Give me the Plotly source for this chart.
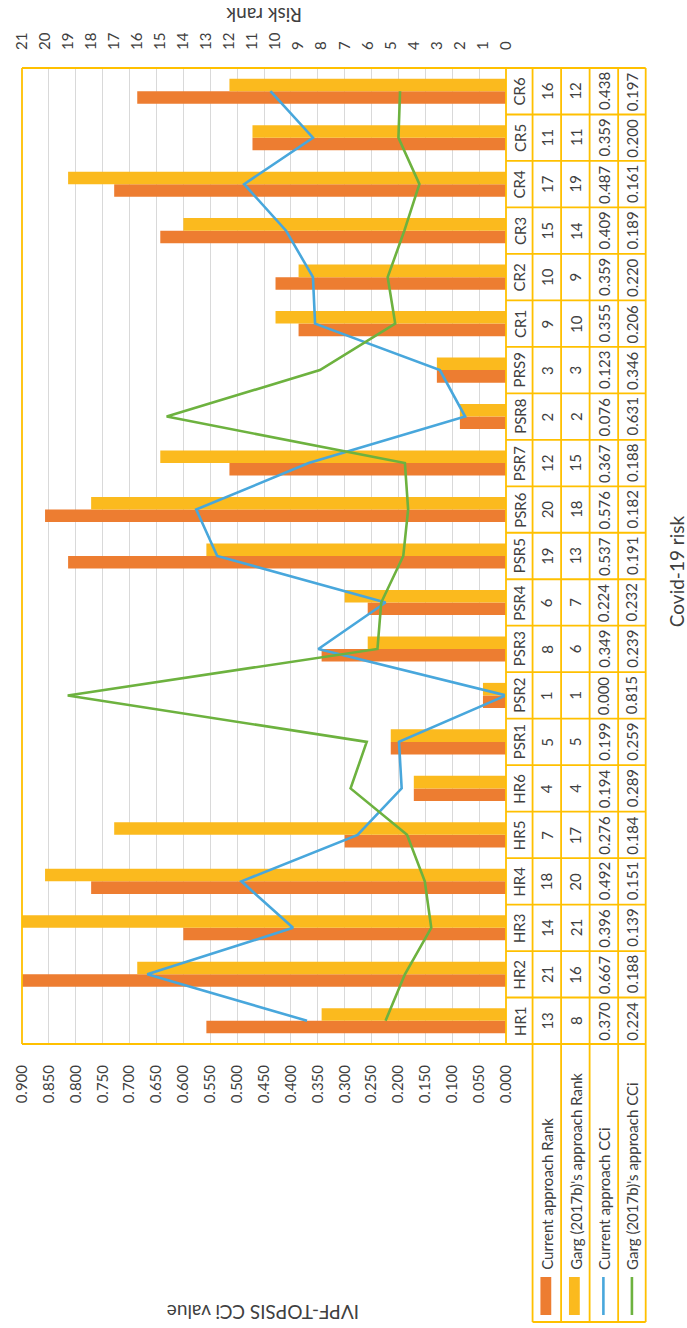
import plotly.graph_objects as go

# Covid-19 risk categories and results of the two IVPF-TOPSIS approaches
risks = ["HR1", "HR2", "HR3", "HR4", "HR5", "HR6",
         "PSR1", "PSR2", "PSR3", "PSR4", "PSR5", "PSR6", "PSR7", "PSR8", "PRS9",
         "CR1", "CR2", "CR3", "CR4", "CR5", "CR6"]
current_rank = [13, 21, 14, 18, 7, 4, 5, 1, 8, 6, 19, 20, 12, 2, 3, 9, 10, 15, 17, 11, 16]
garg_rank = [8, 16, 21, 20, 17, 4, 5, 1, 6, 7, 13, 18, 15, 2, 3, 10, 9, 14, 19, 11, 12]
current_cci = [0.370, 0.667, 0.396, 0.492, 0.276, 0.194, 0.199, 0.000, 0.349, 0.224, 0.537,
               0.576, 0.367, 0.076, 0.123, 0.355, 0.359, 0.409, 0.487, 0.359, 0.438]
garg_cci = [0.224, 0.188, 0.139, 0.151, 0.184, 0.289, 0.259, 0.815, 0.239, 0.232, 0.191,
            0.182, 0.188, 0.631, 0.346, 0.206, 0.220, 0.189, 0.161, 0.200, 0.197]

series_names = ["Current approach Rank", "Garg (2017b)'s approach Rank",
                "Current approach CCi", "Garg (2017b)'s approach CCi"]

ORANGE = "#ED7D31"
GOLD = "#FBBA1E"
BLUE = "#48A7DC"
GREEN = "#6DB23F"
FRAME = "#FFC000"
TEXT = "#404040"
FONT = "Lato"

W, H = 687, 1328
L, R, T, B = 14, 506, 68, 1044   # plot area in pixels


def px(xp):
    return (xp - L) / (R - L)


def py(yp):
    return (B - yp) / (B - T)


pos = list(range(len(risks)))

fig = go.Figure()
fig.add_trace(go.Bar(y=pos, x=current_rank, orientation="h", name=series_names[0],
                     marker=dict(color=ORANGE, line=dict(width=0)), xaxis="x", yaxis="y"))
fig.add_trace(go.Bar(y=pos, x=garg_rank, orientation="h", name=series_names[1],
                     marker=dict(color=GOLD, line=dict(width=0)), xaxis="x", yaxis="y"))
fig.add_trace(go.Scatter(y=pos, x=current_cci, mode="lines", name=series_names[2],
                         line=dict(color=BLUE, width=2.6), xaxis="x2", yaxis="y"))
fig.add_trace(go.Scatter(y=pos, x=garg_cci, mode="lines", name=series_names[3],
                         line=dict(color=GREEN, width=2.6), xaxis="x2", yaxis="y"))

shapes = []
frame = dict(color=FRAME, width=1.8)
# outer frame of plot and table
shapes.append(dict(type="line", xref="paper", yref="paper", x0=px(L), x1=px(648), y0=1, y1=1, line=frame))
shapes.append(dict(type="line", xref="paper", yref="paper", x0=px(L), x1=px(648), y0=0, y1=0, line=frame))
shapes.append(dict(type="line", xref="paper", yref="paper", x0=0, x1=0, y0=0, y1=1, line=frame))
shapes.append(dict(type="line", xref="paper", yref="paper", x0=1, x1=1, y0=0, y1=1, line=frame))
for xc in [533, 562, 591, 620, 648]:
    shapes.append(dict(type="line", xref="paper", yref="paper", x0=px(xc), x1=px(xc),
                       y0=py(1322), y1=1, line=frame))
shapes.append(dict(type="line", xref="paper", yref="paper", x0=px(533), x1=px(648),
                   y0=py(1322), y1=py(1322), line=frame))
for i in range(len(risks) - 1):
    shapes.append(dict(type="line", xref="paper", yref="y", x0=1, x1=px(648),
                       y0=i + 0.5, y1=i + 0.5, line=frame))

# legend keys
shapes.append(dict(type="rect", xref="paper", yref="paper", x0=px(541), x1=px(552),
                   y0=py(1315), y1=py(1277), fillcolor=ORANGE, line=dict(width=0)))
shapes.append(dict(type="rect", xref="paper", yref="paper", x0=px(570), x1=px(581),
                   y0=py(1315), y1=py(1277), fillcolor=GOLD, line=dict(width=0)))
shapes.append(dict(type="line", xref="paper", yref="paper", x0=px(605), x1=px(605),
                   y0=py(1315), y1=py(1277), line=dict(color=BLUE, width=2.6)))
shapes.append(dict(type="line", xref="paper", yref="paper", x0=px(634), x1=px(634),
                   y0=py(1315), y1=py(1277), line=dict(color=GREEN, width=2.6)))

annotations = []
cols = [519.5, 547.5, 576.5, 605.5, 634]
tfont = dict(family=FONT, size=15, color=TEXT)
for i, name in enumerate(risks):
    cells = [name, str(current_rank[i]), str(garg_rank[i]),
             f"{current_cci[i]:.3f}", f"{garg_cci[i]:.3f}"]
    for xc, txt in zip(cols, cells):
        annotations.append(dict(xref="paper", yref="y", x=px(xc), y=i, text=txt,
                                textangle=-90, showarrow=False, font=tfont,
                                xanchor="center", yanchor="middle"))

for xc, name in zip(cols[1:], series_names):
    annotations.append(dict(xref="paper", yref="paper", x=px(xc), y=py(1272), text=name,
                            textangle=-90, showarrow=False, font=tfont,
                            xanchor="center", yanchor="bottom"))

title_font = dict(family=FONT, size=19, color=TEXT)
annotations.append(dict(xref="paper", yref="paper", x=px(260), y=py(15), text="Risk rank",
                        textangle=180, showarrow=False, font=title_font,
                        xanchor="center", yanchor="middle"))
annotations.append(dict(xref="paper", yref="paper", x=px(259), y=py(1313),
                        text="IVPF-TOPSIS CCi value", textangle=180, showarrow=False,
                        font=title_font, xanchor="center", yanchor="middle"))
annotations.append(dict(xref="paper", yref="paper", x=px(679), y=py(571), text="Covid-19 risk",
                        textangle=-90, showarrow=False, font=title_font,
                        xanchor="center", yanchor="middle"))

tick_font = dict(family=FONT, size=15, color=TEXT)
fig.update_layout(
    width=W, height=H,
    margin=dict(l=L, r=W - R, t=T, b=H - B, pad=0),
    paper_bgcolor="white", plot_bgcolor="white",
    showlegend=False,
    barmode="group", bargap=0.46, bargroupgap=0,
    xaxis=dict(range=[21, 0], side="top", tickmode="linear", tick0=0, dtick=1,
               tickangle=-90, tickfont=tick_font, showgrid=False, zeroline=False,
               showline=False, ticks="outside", ticklen=14, tickcolor="rgba(0,0,0,0)"),
    xaxis2=dict(range=[0.9, 0], overlaying="x", side="bottom", tickmode="linear",
                tick0=0, dtick=0.05, tickformat=".3f", tickangle=-90, tickfont=tick_font,
                showgrid=True, gridcolor="#D9D9D9", gridwidth=1, zeroline=False,
                showline=False, ticks="outside", ticklen=14, tickcolor="rgba(0,0,0,0)"),
    yaxis=dict(range=[-0.5, len(risks) - 0.5], showticklabels=False, showgrid=False,
               zeroline=False, showline=False, fixedrange=True),
    shapes=shapes,
    annotations=annotations,
)

fig.write_html("out.html")
